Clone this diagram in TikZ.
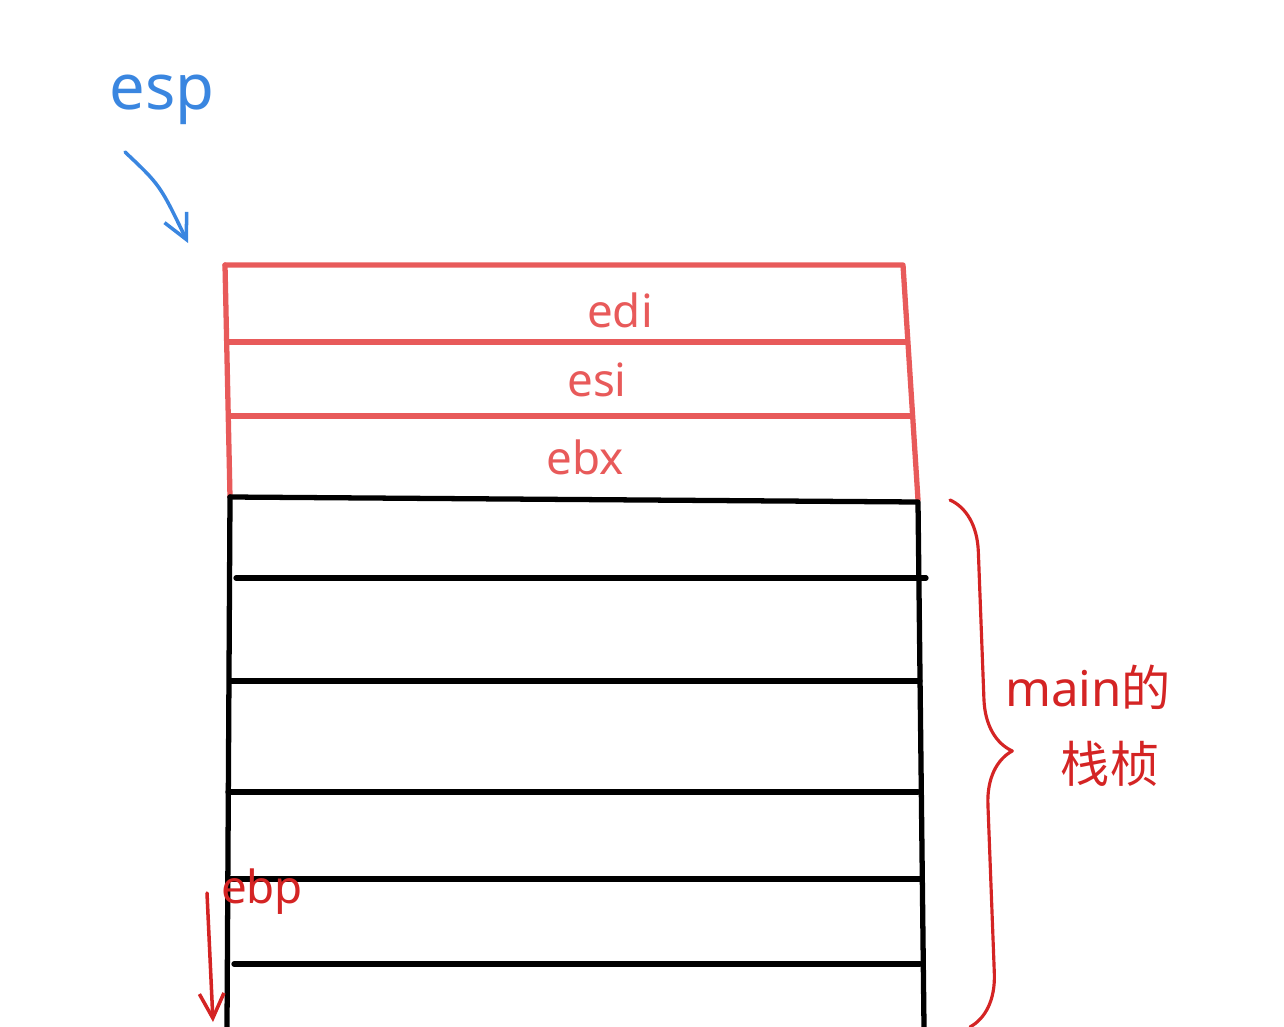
\documentclass[tikz,border=0pt]{standalone}
\usepackage{fontspec}
\setmainfont{Noto Sans}
\newfontfamily\cjk{Noto Sans CJK SC}
\usepackage{tikz}
\usetikzlibrary{decorations.pathreplacing,arrows.meta}
\definecolor{pushred}{HTML}{E85A5A}
\definecolor{notered}{HTML}{D42424}
\definecolor{espblue}{HTML}{3A86E0}
\tikzstyle{pushed}=[draw=pushred, line width=3pt]
\tikzstyle{frame}=[draw=black, line width=3pt]
\tikzstyle{reg}=[inner sep=0pt, text=pushred, font=\fontsize{26}{30}\selectfont]
\tikzstyle{note}=[inner sep=0pt, text=notered, font=\fontsize{28}{34}\selectfont]
\tikzstyle{ptr}=[-{Straight Barb[length=14pt, width=14pt]}, line width=2pt]

\begin{document}
\begin{tikzpicture}[x=0.02cm, y=-0.02cm, line join=round, line cap=round]
				\useasboundingbox (0,0) rectangle (1284,1027);

				%The pushed registers
				\draw[pushed] (225,265) -- (903,265) -- (918,500);
				\draw[pushed] (225,265) -- (230,497);
				\draw[pushed] (228,342) -- (907,342);
				\draw[pushed] (230,416) -- (912,416);
				\draw (620,310) node[reg] (edi) {edi};
				\draw (597,380) node[reg] (esi) {esi};
				\draw (585,457) node[reg] (ebx) {ebx};

				%The frame of main
				\draw[frame] (230,497) -- (918,502) -- (924,1027);
				\draw[frame] (230,497) -- (227,1027);
				\draw[frame] (236,578) -- (926,578);
				\draw[frame] (230,681) -- (920,681);
				\draw[frame] (228,792) -- (918,792);
				\draw[frame] (228,879) -- (920,879);
				\draw[frame] (234,964) -- (920,964);

				%The brace
				\draw[notered, line width=1.8pt, decorate, decoration={brace, amplitude=30pt, aspect=0.48}]
					(950,500) -- (970,1027);
				\draw (1088,687) node[note] (main) {main{\cjk 的}};
				\draw (1110,764) node[note] (frm) {\cjk 栈桢};

				%The pointers
				\draw (162,100) node[inner sep=0pt, text=espblue, font=\fontsize{36}{42}\selectfont] (esp) {esp};
				\coordinate (top) at (188,243);
				\draw[ptr, draw=espblue] (125,152) .. controls (160,185) .. (top);
				\draw (262,892) node[reg, text=notered] (ebp) {ebp};
				\coordinate (bot) at (213,1022);
				\draw[ptr, draw=notered] (207,893) -- (bot);
			\end{tikzpicture}
\end{document}
